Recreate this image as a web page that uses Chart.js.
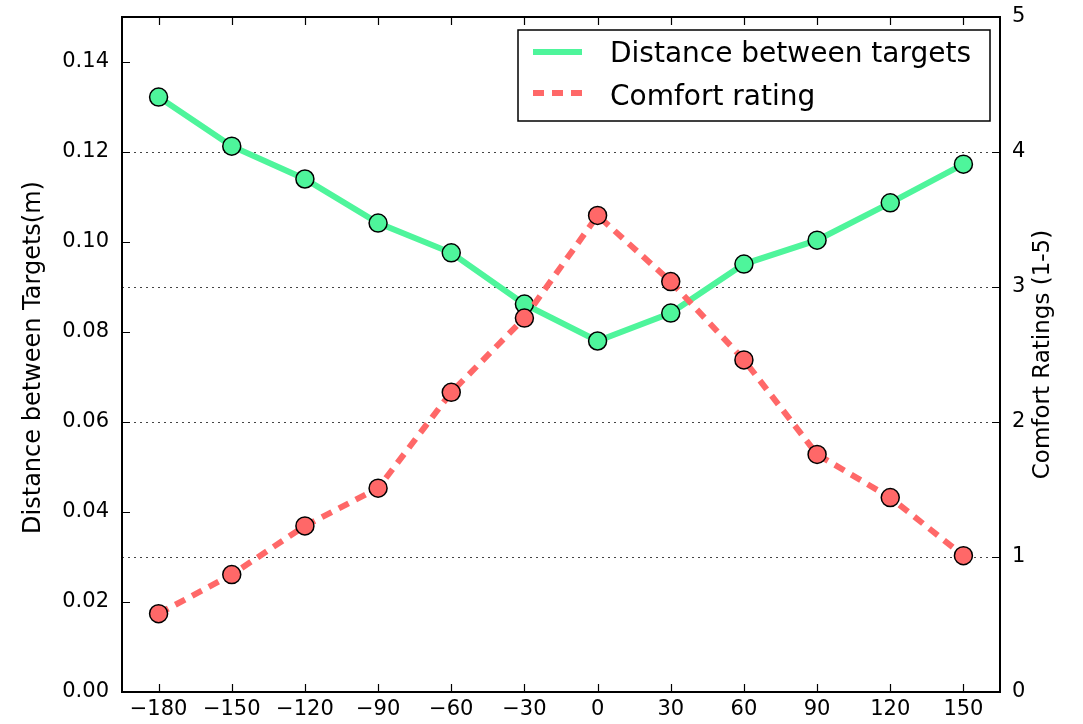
<!DOCTYPE html>
<html>
<head>
<meta charset="utf-8">
<script src="https://cdn.jsdelivr.net/npm/chart.js@4.4.1/dist/chart.umd.min.js"></script>
<style>
  html, body { margin: 0; padding: 0; background: #fff; }
  #wrap { width: 1083px; height: 724px; }
</style>
</head>
<body>
<div id="wrap"><canvas id="chart" width="1083" height="724"></canvas></div>
<script>
// angles (x axis)
const angles = [-180, -150, -120, -90, -60, -30, 0, 30, 60, 90, 120, 150];
// distance between targets (m), left axis
const distance = [0.1322, 0.1213, 0.1140, 0.1042, 0.0976, 0.0862, 0.0780, 0.0842, 0.0951, 0.1004, 0.1087, 0.1173];
// comfort rating (1-5), right axis
const comfort = [0.58, 0.87, 1.23, 1.51, 2.22, 2.77, 3.53, 3.04, 2.46, 1.76, 1.44, 1.01];

const xTicks = angles;
const leftTicks = [0, 0.02, 0.04, 0.06, 0.08, 0.10, 0.12, 0.14];
const rightTicks = [0, 1, 2, 3, 4, 5];

const leftTitle = 'Distance between Targets(m)';
const rightTitle = 'Comfort Ratings (1-5)';

const GREEN = '#4ef59b';
const RED = '#ff6868';
const FONT = "'DejaVu Sans', sans-serif";

const toPoints = (ys) => angles.map((a, i) => ({ x: a, y: ys[i] }));
const minus = (s) => String(s).replace('-', '\u2212');

function vText(ctx, text, cx, cy) {
  ctx.save();
  ctx.translate(cx, cy);
  ctx.rotate(-Math.PI / 2);
  ctx.textAlign = 'center';
  ctx.textBaseline = 'middle';
  ctx.fillText(text, 0, 0);
  ctx.restore();
}

// frame, inward ticks, dotted grid, axis titles and legend
const decor = {
  id: 'decor',
  beforeDatasetsDraw(chart) {
    const { ctx, chartArea: a } = chart;
    const y2 = chart.scales.y2;
    ctx.save();
    ctx.strokeStyle = '#444';
    ctx.lineWidth = 1;
    ctx.setLineDash([2, 4]);
    rightTicks.filter(v => v > 0 && v < 5).forEach(v => {
      const y = Math.round(y2.getPixelForValue(v)) + 0.5;
      ctx.beginPath();
      ctx.moveTo(a.left, y);
      ctx.lineTo(a.right, y);
      ctx.stroke();
    });
    ctx.restore();
  },
  afterDraw(chart) {
    const { ctx, chartArea: a } = chart;
    const { x, y, y2 } = chart.scales;
    const tl = 8;
    ctx.save();
    ctx.strokeStyle = '#000';
    ctx.lineWidth = 2;
    ctx.strokeRect(a.left, a.top, a.right - a.left, a.bottom - a.top);
    ctx.lineWidth = 1.2;
    ctx.beginPath();
    xTicks.forEach(v => {
      const px = Math.round(x.getPixelForValue(v)) + 0.5;
      ctx.moveTo(px, a.bottom); ctx.lineTo(px, a.bottom - tl);
      ctx.moveTo(px, a.top); ctx.lineTo(px, a.top + tl);
    });
    leftTicks.forEach(v => {
      const py = Math.round(y.getPixelForValue(v)) + 0.5;
      ctx.moveTo(a.left, py); ctx.lineTo(a.left + tl, py);
    });
    rightTicks.forEach(v => {
      const py = Math.round(y2.getPixelForValue(v)) + 0.5;
      ctx.moveTo(a.right, py); ctx.lineTo(a.right - tl, py);
    });
    ctx.stroke();

    // axis titles
    const midY = (a.top + a.bottom) / 2;
    ctx.fillStyle = '#000';
    ctx.font = '24px ' + FONT;
    vText(ctx, leftTitle, 34, midY + 3);
    ctx.font = '23px ' + FONT;
    vText(ctx, rightTitle, 1043, midY);

    // legend box
    const bx = 518, by = 30, bw = 472, bh = 91;
    ctx.fillStyle = '#fff';
    ctx.fillRect(bx, by, bw, bh);
    ctx.lineWidth = 1.5;
    ctx.strokeStyle = '#000';
    ctx.strokeRect(bx, by, bw, bh);
    chart.data.datasets.forEach((ds, i) => {
      const ly = by + 22 + i * 41;
      ctx.beginPath();
      ctx.lineWidth = 6;
      ctx.strokeStyle = ds.borderColor;
      ctx.setLineDash(ds.borderDash || []);
      ctx.moveTo(bx + 15, ly);
      ctx.lineTo(bx + 64, ly);
      ctx.stroke();
      ctx.setLineDash([]);
      ctx.fillStyle = '#000';
      ctx.font = '28px ' + FONT;
      ctx.textBaseline = 'middle';
      ctx.textAlign = 'left';
      ctx.fillText(ds.label, bx + 92, ly + 3 + i * 2);
    });
    ctx.restore();
  }
};

const noPadY = s => { s.paddingTop = 0; s.paddingBottom = 0; };

new Chart(document.getElementById('chart'), {
  type: 'line',
  data: {
    datasets: [
      {
        label: 'Distance between targets',
        data: toPoints(distance),
        yAxisID: 'y',
        borderColor: GREEN,
        backgroundColor: GREEN,
        borderWidth: 6,
        pointRadius: 9,
        pointBorderColor: '#000',
        pointBorderWidth: 1.5,
        pointBackgroundColor: GREEN,
        order: 2
      },
      {
        label: 'Comfort rating',
        data: toPoints(comfort),
        yAxisID: 'y2',
        borderColor: RED,
        backgroundColor: RED,
        borderWidth: 6,
        borderDash: [11, 8],
        pointRadius: 9,
        pointBorderColor: '#000',
        pointBorderWidth: 1.5,
        pointBackgroundColor: RED,
        order: 1
      }
    ]
  },
  options: {
    responsive: false,
    animation: false,
    layout: { padding: { top: 17, left: 0, right: 0, bottom: 0 } },
    plugins: { legend: { display: false }, tooltip: { enabled: false } },
    scales: {
      x: {
        type: 'linear',
        min: -195,
        max: 165,
        afterBuildTicks: s => { s.ticks = xTicks.map(v => ({ value: v })); },
        afterFit: s => { s.height = 32; s.paddingLeft = 0; s.paddingRight = 0; },
        grid: { display: false, drawTicks: false },
        border: { display: false },
        ticks: { color: '#000', font: { family: FONT, size: 21 }, padding: 5, maxRotation: 0, callback: v => minus(v) }
      },
      y: {
        position: 'left',
        min: 0,
        max: 0.15,
        afterBuildTicks: s => { s.ticks = leftTicks.map(v => ({ value: v })); },
        afterFit: s => { s.width = 122; noPadY(s); },
        grid: { display: false, drawTicks: false },
        border: { display: false },
        ticks: { color: '#000', font: { family: FONT, size: 21 }, padding: 13, callback: v => v.toFixed(2) }
      },
      y2: {
        position: 'right',
        min: 0,
        max: 5,
        afterBuildTicks: s => { s.ticks = rightTicks.map(v => ({ value: v })); },
        afterFit: s => { s.width = 83; noPadY(s); },
        grid: { display: false, drawTicks: false },
        border: { display: false },
        ticks: { color: '#000', font: { family: FONT, size: 21 }, padding: 12, callback: v => String(v) }
      }
    }
  },
  plugins: [decor]
});
</script>
</body>
</html>
